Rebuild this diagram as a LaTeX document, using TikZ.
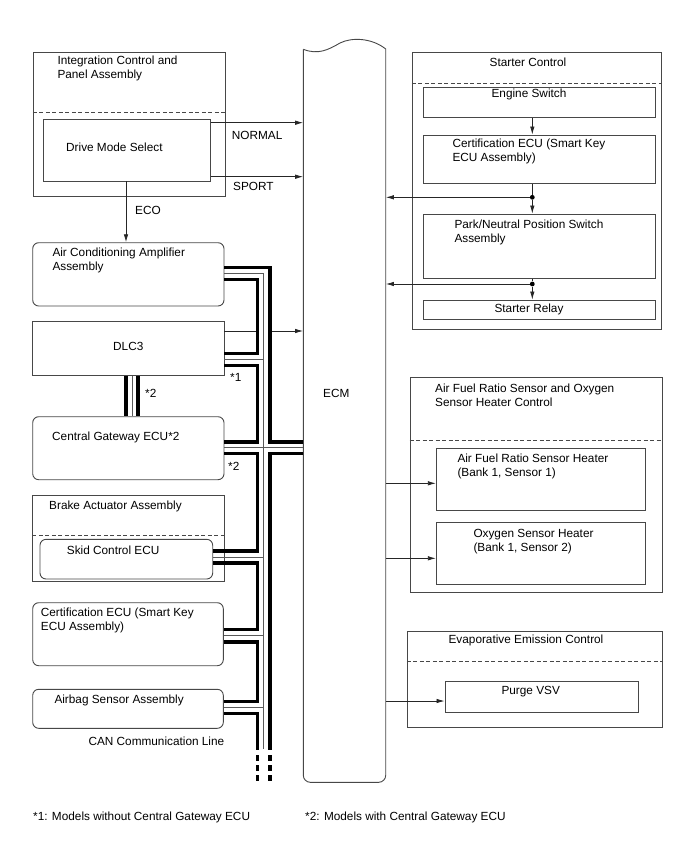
\documentclass[tikz,border=0pt]{standalone}
\usepackage{fontspec}
\setmainfont{Liberation Sans}
\usetikzlibrary{arrows.meta,fit}
\begin{document}
\begin{tikzpicture}[x=1pt,y=-1pt,
  every node/.style={font=\fontsize{11.8}{14}\selectfont, inner sep=0pt},
  box/.style={draw=black!72, line width=0.9pt, inner sep=0pt},
  rbox/.style={box, rounded corners=6pt},
  lbl/.style={anchor=west, align=left},
  clbl/.style={anchor=center, align=center},
  sepline/.style={draw=black!72, line width=0.9pt, dash pattern=on 4pt off 2.5pt},
  arr/.style={draw=black!85, line width=0.8pt, -{Latex[length=8pt,width=4.5pt]}},
  wire/.style={draw=black!85, line width=0.8pt},
  canthick/.style={line width=3.6pt, draw=black},
  canthin/.style={line width=0.8pt, draw=black!65},
  candash/.style={line width=3.6pt, draw=black, dash pattern=on 5.7pt off 4.3pt},
  dot/.style={circle, fill=black, minimum size=4.8pt, inner sep=0pt},
]
\useasboundingbox (0,0) rectangle (688,852);

% ---------- ECM ----------
\node[fit={(303.3,40) (385.7,782.3)}, inner sep=0pt] (ecm) {};
\draw[draw=black!72, line width=0.9pt] (303.3,49.3) [rounded corners=7pt] -- (303.3,782.3) -- (385.7,782.3) [sharp corners] -- (385.7,49)
  .. controls (372,38) and (352,37) .. (340,43)
  .. controls (328,50) and (318,55) .. (303.3,49.3);
\node[lbl] (tecm) at (323,393.3) {ECM};

% ---------- Left column ----------
\node[box, fit={(33.3,52.3) (225,196.7)}] (intg) {};
\draw[sepline] (intg.west |- 0,112.7) -- (intg.east |- 0,112.7);
\node[lbl] (tintg) at (57.3,68.7) {Integration Control and\\Panel Assembly};
\node[box, fit={(43.3,119) (210.3,181)}] (dms) {};
\node[lbl] (tdms) at (66,147.3) {Drive Mode Select};

\node[rbox, fit={(32.7,242.7) (224,306)}] (ac) {};
\node[lbl] (tac) at (52.3,260.8) {Air Conditioning Amplifier\\Assembly};

\node[box, fit={(32.7,321.7) (224,375.7)}] (dlc) {};
\node[clbl] (tdlc) at (128.3,346.7) {DLC3};

\node[rbox, fit={(32.7,416.7) (224,479.7)}] (cgw) {};
\node[lbl] (tcgw) at (52,437) {Central Gateway ECU*2};

\node[box, fit={(32.7,495) (224,581.7)}] (brk) {};
\draw[sepline] (brk.west |- 0,535) -- (brk.east |- 0,535);
\node[lbl] (tbrk) at (49,506) {Brake Actuator Assembly};
\node[rbox, fit={(40,539.3) (212.7,579)}] (skid) {};
\node[lbl] (tskid) at (66.7,550.7) {Skid Control ECU};

\node[rbox, fit={(32.7,602.7) (223.3,665.7)}] (cert) {};
\node[lbl] (tcert) at (40.7,620.7) {Certification ECU (Smart Key\\ECU Assembly)};

\node[rbox, fit={(32.7,689.3) (223.3,728.3)}] (airbag) {};
\node[lbl] (tairbag) at (54.3,700) {Airbag Sensor Assembly};

\node[lbl] (tcan) at (88.3,741.7) {CAN Communication Line};

% labels
\node[lbl] (tnormal) at (231.7,135) {NORMAL};
\node[lbl] (tsport) at (233,186.7) {SPORT};
\node[lbl] (teco) at (135,210) {ECO};
\node[lbl] (tst1) at (230,377.3) {*1};
\node[lbl] (tst2a) at (145,393.3) {*2};
\node[lbl] (tst2b) at (228,466.7) {*2};

% arrows left side
\draw[arr] (dms.east |- 0,122.7) -- (ecm.west |- 0,122.7);
\draw[arr] (dms.east |- 0,176.7) -- (ecm.west |- 0,176.7);
\draw[arr] (dms.south -| 126,0) -- (ac.north -| 126,0);
\draw[arr] (dlc.east |- 0,331) -- (ecm.west |- 0,331);

% ---------- CAN lines ----------
\fill[white] (257.3,324) rectangle (269.7,338);
% outer spine
\draw[canthick] (ac.east |- 0,267.3) -- (269.7,267.3) -- (269.7,441.7) -- (ecm.west |- 0,441.7);
\draw[canthick] (ecm.west |- 0,453.3) -- (269.7,453.3) -- (269.7,750);
\draw[candash] (269.7,755) -- (269.7,781.7);
% inner loops
\draw[canthick] (ac.east |- 0,279.3) -- (257.3,279.3) -- (257.3,353.3) -- (dlc.east |- 0,353.3);
\draw[canthick] (dlc.east |- 0,365.3) -- (257.3,365.3) -- (257.3,441.7) -- (cgw.east |- 0,441.7);
\draw[canthick] (cgw.east |- 0,453.3) -- (257.3,453.3) -- (257.3,551) -- (skid.east |- 0,551);
\draw[canthick] (skid.east |- 0,563) -- (257.3,563) -- (257.3,629.5) -- (cert.east |- 0,629.5);
\draw[canthick] (cert.east |- 0,641.7) -- (257.3,641.7) -- (257.3,701.3) -- (airbag.east |- 0,701.3);
\draw[canthick] (airbag.east |- 0,713.5) -- (257.3,713.5) -- (257.3,750);
\draw[candash] (257.3,755) -- (257.3,781.7);
% thin centre lines
\draw[canthin] (ac.east |- 0,273.3) -- (263.5,273.3) -- (263.5,749);
\draw[canthin] (dlc.east |- 0,359.3) -- (263.5,359.3);
\draw[canthin] (cgw.east |- 0,447.5) -- (ecm.west |- 0,447.5);
\draw[canthin] (skid.east |- 0,557) -- (263.5,557);
\draw[canthin] (cert.east |- 0,635.5) -- (263.5,635.5);
\draw[canthin] (airbag.east |- 0,707.3) -- (263.5,707.3);
% DLC3 - Central Gateway
\draw[canthick] (dlc.south -| 125.7,0) -- (cgw.north -| 125.7,0);
\draw[canthick] (dlc.south -| 138,0) -- (cgw.north -| 138,0);
\draw[canthin] (dlc.south -| 131.9,0) -- (cgw.north -| 131.9,0);

% ---------- Starter Control ----------
\node[box, fit={(412.3,52.7) (661.7,329)}] (stc) {};
\draw[sepline] (stc.west |- 0,83.3) -- (stc.east |- 0,83.3);
\node[clbl] (tstc) at (528,62.7) {Starter Control};
\node[box, fit={(423.3,87.3) (655.7,117.7)}] (engsw) {};
\node[clbl] (tengsw) at (529,94.3) {Engine Switch};
\node[box, fit={(423.3,135) (655.7,183.3)}] (certr) {};
\node[lbl] (tcertr) at (452.3,151.3) {Certification ECU (Smart Key\\ECU Assembly)};
\node[box, fit={(423.3,214) (655.7,278.3)}] (park) {};
\node[lbl] (tpark) at (454.3,232) {Park/Neutral Position Switch\\Assembly};
\node[box, fit={(423.3,300) (655.7,319.3)}] (relay) {};
\node[clbl] (trelay) at (529,309.3) {Starter Relay};

\node[dot] (d1) at (532.3,197.3) {};
\node[dot] (d2) at (532.3,284) {};
\draw[arr] (engsw.south -| 532.3,0) -- (certr.north -| 532.3,0);
\draw[wire] (certr.south -| d1) -- (d1);
\draw[arr] (d1) -- (park.north -| d1);
\draw[arr] (d1) -- (ecm.east |- d1);
\draw[wire] (park.south -| d2) -- (d2);
\draw[arr] (d2) -- (relay.north -| d2);
\draw[arr] (d2) -- (ecm.east |- d2);

% ---------- Air Fuel Ratio ----------
\node[box, fit={(410,377.3) (662.3,592.7)}] (afr) {};
\draw[sepline] (afr.west |- 0,440.7) -- (afr.east |- 0,440.7);
\node[lbl] (tafr) at (435,395.3) {Air Fuel Ratio Sensor and Oxygen\\Sensor Heater Control};
\node[box, fit={(436.3,448.3) (645.7,510)}] (afrh) {};
\node[lbl] (tafrh) at (457.3,466.3) {Air Fuel Ratio Sensor Heater\\(Bank 1, Sensor 1)};
\node[box, fit={(436.3,522.7) (645.7,584.3)}] (o2h) {};
\node[lbl] (to2h) at (473.3,541.2) {Oxygen Sensor Heater\\(Bank 1, Sensor 2)};
\draw[arr] (ecm.east |- 0,483.3) -- (afrh.west |- 0,483.3);
\draw[arr] (ecm.east |- 0,558.3) -- (o2h.west |- 0,558.3);

% ---------- Evaporative ----------
\node[box, fit={(407.3,631.7) (662.3,727.7)}] (evap) {};
\draw[sepline] (evap.west |- 0,661) -- (evap.east |- 0,661);
\node[clbl] (tevap) at (526,640) {Evaporative Emission Control};
\node[box, fit={(445,681.7) (638.3,712.3)}] (purge) {};
\node[clbl] (tpurge) at (530.7,691.7) {Purge VSV};
\draw[arr] (ecm.east |- 0,701) -- (purge.west |- 0,701);

% ---------- footnotes ----------
\node[lbl] (fn1) at (33,817) {*1: Models without Central Gateway ECU};
\node[lbl] (fn2) at (305,817) {*2: Models with Central Gateway ECU};
\end{tikzpicture}
\end{document}
